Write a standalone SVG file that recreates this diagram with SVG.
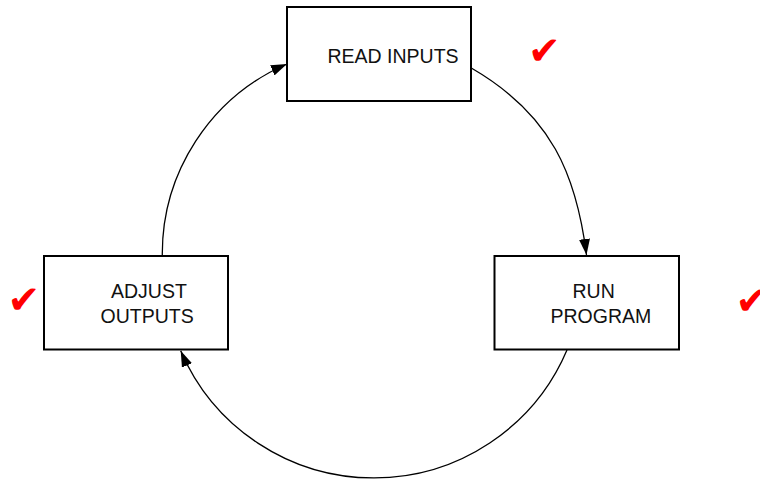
<svg xmlns="http://www.w3.org/2000/svg" width="760" height="481" viewBox="0 0 760 481">
<style>
.box{fill:#fff;stroke:#000;stroke-width:2}
.lbl{font-family:"Liberation Sans",Arial,sans-serif;font-size:19.5px;fill:#111}
.chk{font-family:"DejaVu Sans",sans-serif;font-size:39px;fill:#f00}
.conn{fill:none;stroke:#000;stroke-width:1.3}
</style>
<defs>
<marker id="arr" markerUnits="userSpaceOnUse" markerWidth="16" markerHeight="11" refX="16" refY="5.5" orient="auto">
<path d="M0,0 L16,5.5 L0,11 z" fill="#000"/>
</marker>
</defs>
<rect width="760" height="481" fill="#fff"/>
<g id="connectors">
<path class="conn" d="M471.7,68.3 C551.7,114.7 576.4,175 586.5,255" marker-end="url(#arr)"/>
<path class="conn" d="M567,350 A210,210 0 0 1 180.7,350.7" marker-end="url(#arr)"/>
<path class="conn" d="M162.3,256 A207,207 0 0 1 287,64" marker-end="url(#arr)"/>
</g>
<g id="read-inputs">
<rect class="box" x="287" y="7" width="184" height="94"/>
<text class="lbl" x="327.5" y="63">READ INPUTS</text>
</g>
<g id="run-program">
<rect class="box" x="494.5" y="256" width="184.5" height="93.5"/>
<text class="lbl" x="572.5" y="298">RUN</text>
<text class="lbl" x="550.5" y="323">PROGRAM</text>
</g>
<g id="adjust-outputs">
<rect class="box" x="44" y="256" width="184" height="93.5"/>
<text class="lbl" x="111" y="298">ADJUST</text>
<text class="lbl" x="100.5" y="323">OUTPUTS</text>
</g>
<g id="checks">
<text class="chk" x="528" y="64">✔</text>
<text class="chk" x="7.5" y="313">✔</text>
<text class="chk" x="735.5" y="314">✔</text>
</g>
</svg>
